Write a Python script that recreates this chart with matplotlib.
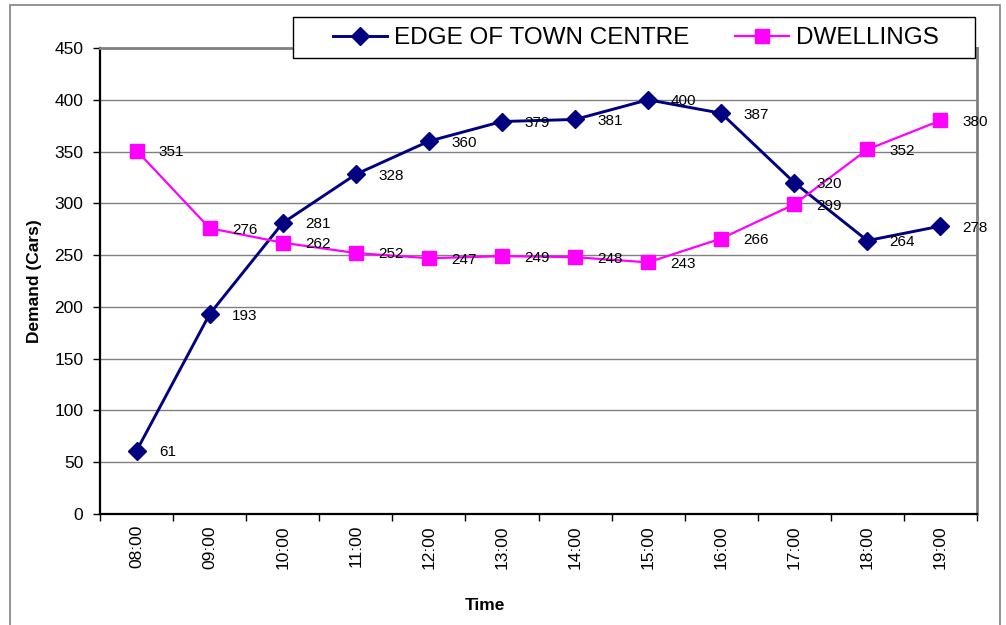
import matplotlib.pyplot as plt
from matplotlib.patches import Rectangle
from matplotlib.lines import Line2D
import numpy as np

plt.rcParams['font.family'] = ['Liberation Sans', 'DejaVu Sans']

times = ['08:00', '09:00', '10:00', '11:00', '12:00', '13:00',
         '14:00', '15:00', '16:00', '17:00', '18:00', '19:00']
edge_of_town = [61, 193, 281, 328, 360, 379, 381, 400, 387, 320, 264, 278]
dwellings = [351, 276, 262, 252, 247, 249, 248, 243, 266, 299, 352, 380]

W, H = 1006, 625
fig = plt.figure(figsize=(W / 100, H / 100), dpi=100)

# outer chart border
fig.patches.append(Rectangle((10 / W, -0.05), 990 / W, 1 - 5 / H + 0.05,
                             transform=fig.transFigure, fill=False,
                             edgecolor='#808080', linewidth=1.2))

ax = fig.add_axes([100 / W, 1 - 514 / H, 877 / W, (514 - 48) / H])
x = np.arange(len(times))

navy = '#000080'
magenta = '#ff00ff'
ax.plot(x, edge_of_town, color=navy, linewidth=2.1, marker='D',
        markersize=9.5, zorder=3)
ax.plot(x, dwellings, color=magenta, linewidth=1.6, marker='s',
        markersize=10.5, zorder=3)

for xi, v in zip(x, edge_of_town):
    ax.annotate(str(v), (xi, v), xytext=(16, -1), textcoords='offset points',
                ha='left', va='center', fontsize=11, zorder=4)
for xi, v in zip(x, dwellings):
    ax.annotate(str(v), (xi, v), xytext=(16, -1), textcoords='offset points',
                ha='left', va='center', fontsize=11, zorder=4)

ax.set_xlim(-0.5, len(times) - 0.5)
ax.set_ylim(0, 450)
ax.set_yticks(np.arange(0, 451, 50))
ax.grid(axis='y', color='#808080', linewidth=1)
ax.set_axisbelow(True)

ax.set_xticks(x)
ax.set_xticklabels(times, rotation=90)
ax.set_xticks(np.arange(-0.5, len(times)), minor=True)
ax.tick_params(axis='x', which='major', length=0, pad=8, labelsize=12.5)
ax.tick_params(axis='x', which='minor', length=5, width=1, color='#000000')
ax.tick_params(axis='y', length=5, width=1, labelsize=12.5, pad=7)

for side in ['left', 'bottom']:
    ax.spines[side].set_color('black')
    ax.spines[side].set_linewidth(1.6)
for side in ['top', 'right']:
    ax.spines[side].set_color('#808080')
    ax.spines[side].set_linewidth(2)

ax.set_ylabel('Demand (Cars)', fontsize=12.5, fontweight='bold', labelpad=9)
fig.text(485 / W, 1 - 605 / H, 'Time', fontsize=12.5, fontweight='bold',
         ha='center', va='center')

# legend box
fig.patches.append(Rectangle((293 / W, 1 - 58 / H), (975 - 293) / W, 41 / H,
                             transform=fig.transFigure, facecolor='white',
                             edgecolor='black', linewidth=1, zorder=5))
handles = [Line2D([], [], color=navy, linewidth=2.1, marker='D', markersize=9.5),
           Line2D([], [], color=magenta, linewidth=1.6, marker='s', markersize=10.5)]
leg = fig.legend(handles, ['EDGE OF TOWN CENTRE', 'DWELLINGS'], ncol=2,
                 loc='center', bbox_to_anchor=(636 / W, 1 - 38 / H),
                 frameon=False, fontsize=17.5, handlelength=2.2,
                 handletextpad=0.3, columnspacing=1.9)
leg.set_zorder(6)

fig.savefig('out.png', dpi=100)
